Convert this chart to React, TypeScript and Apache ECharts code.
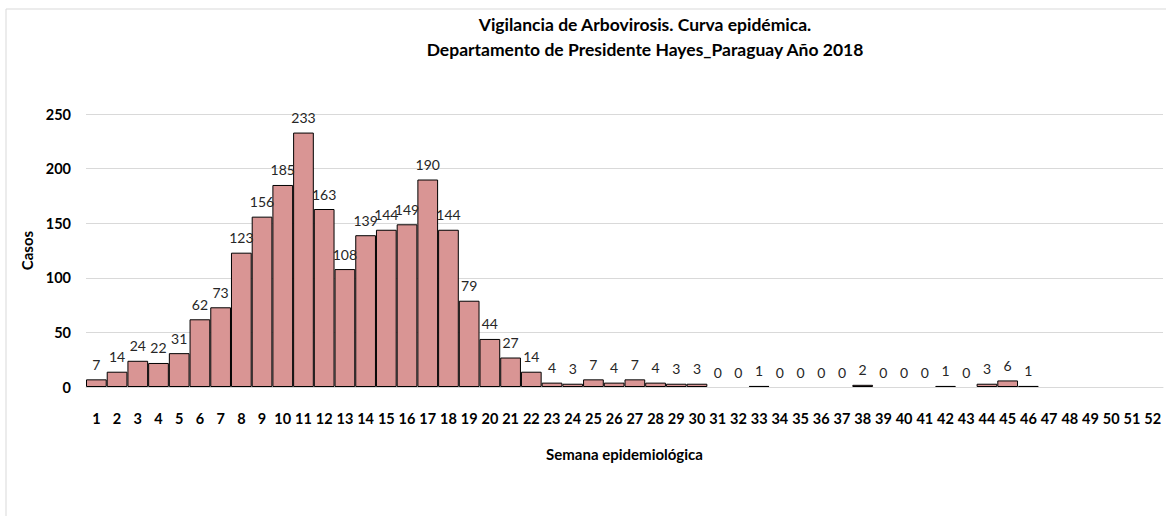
import React, { useEffect, useRef } from "react";
import * as echarts from "echarts";

const weeks: string[] = Array.from({ length: 52 }, (_, i) => String(i + 1));
const casos: (number | null)[] = [
  7, 14, 24, 22, 31, 62, 73, 123, 156, 185,
  233, 163, 108, 139, 144, 149, 190, 144, 79, 44,
  27, 14, 4, 3, 7, 4, 7, 4, 3, 3,
  0, 0, 1, 0, 0, 0, 0, 2, 0, 0,
  0, 1, 0, 3, 6, 1, null, null, null, null,
  null, null,
];
const yTicks = { min: 0, max: 250, interval: 50 };
const titleLines = [
  "Vigilancia de Arbovirosis. Curva epidémica.",
  "Departamento de Presidente Hayes_Paraguay Año 2018",
];

const FONT = "Lato";

export default function App() {
  const ref = useRef<HTMLDivElement>(null);
  useEffect(() => {
    document.body.style.margin = "0";
    const chart = echarts.init(ref.current!, null, { renderer: "svg" });
    chart.setOption({
      animation: false,
      backgroundColor: "#ffffff",
      textStyle: { fontFamily: FONT },
      title: {
        text: titleLines.join("\n"),
        left: 640,
        textAlign: "center",
        top: 7,
        textStyle: {
          fontFamily: FONT,
          fontSize: 17.5,
          fontWeight: "bold",
          color: "#000000",
          lineHeight: 25,
        },
      },
      graphic: [
        {
          type: "rect",
          shape: { x: 6, y: 9, width: 1180, height: 530 },
          style: { fill: "none", stroke: "#d9d9d9", lineWidth: 1 },
          silent: true,
          z: -1,
        },
      ],
      grid: { left: 86, right: 3, top: 114, bottom: 129, containLabel: false },
      xAxis: {
        type: "category",
        data: weeks,
        name: "Semana epidemiológica",
        nameLocation: "middle",
        nameGap: 59,
        nameTextStyle: { fontFamily: FONT, fontSize: 15, fontWeight: "bold", color: "#000" },
        axisLine: { lineStyle: { color: "#d9d9d9", width: 1 } },
        axisTick: { show: false },
        axisLabel: {
          interval: 0,
          margin: 24,
          fontFamily: FONT,
          fontSize: 14.5,
          fontWeight: "bold",
          color: "#000",
        },
      },
      yAxis: {
        type: "value",
        min: yTicks.min,
        max: yTicks.max,
        interval: yTicks.interval,
        name: "Casos",
        nameLocation: "middle",
        nameRotate: 90,
        nameGap: 49,
        nameTextStyle: { fontFamily: FONT, fontSize: 15, fontWeight: "bold", color: "#000" },
        axisLine: { show: false },
        axisTick: { show: false },
        splitLine: { lineStyle: { color: "#d9d9d9", width: 1 } },
        axisLabel: {
          margin: 15,
          fontFamily: FONT,
          fontSize: 14.5,
          fontWeight: "bold",
          color: "#000",
        },
      },
      series: [
        {
          type: "bar",
          data: casos.map((v) =>
            v === 0 ? { value: 0, itemStyle: { borderWidth: 0 } } : v
          ),
          barCategoryGap: "0%",
          itemStyle: { color: "#D99594", borderColor: "#000000", borderWidth: 1 },
          label: {
            show: true,
            position: "top",
            distance: 8,
            fontFamily: FONT,
            fontSize: 14,
            color: "#262626",
          },
        },
      ],
    });
    return () => chart.dispose();
  }, []);
  return <div ref={ref} style={{ width: 1166, height: 516 }} />;
}
